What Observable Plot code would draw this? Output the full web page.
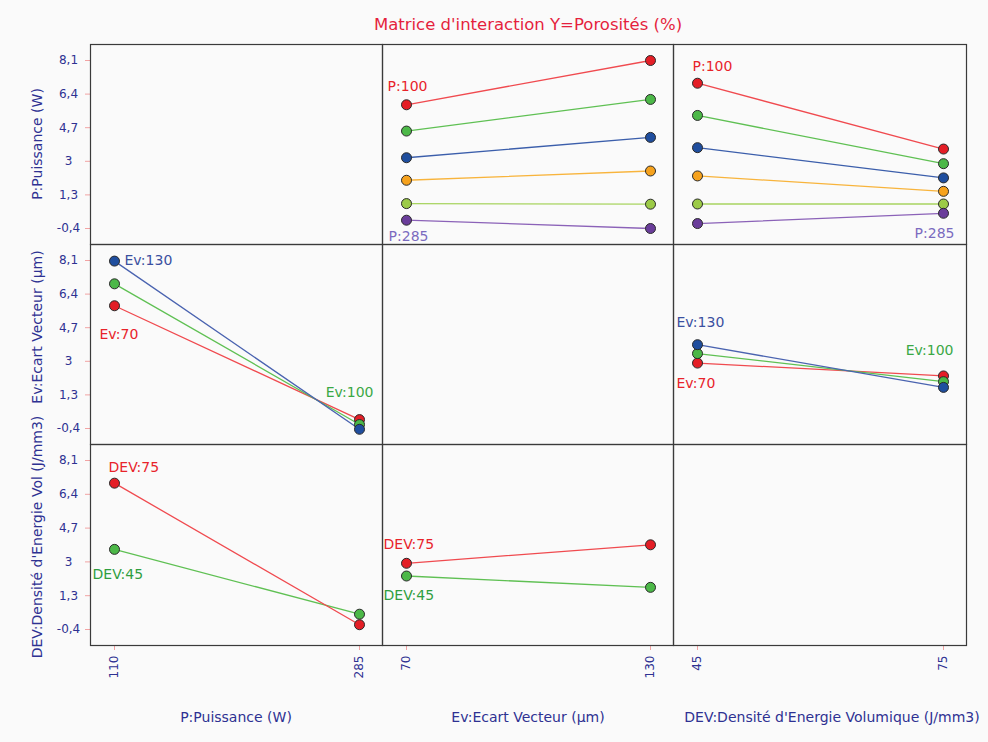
<!DOCTYPE html>
<html>
<head>
<meta charset="utf-8">
<script src="https://cdn.jsdelivr.net/npm/d3@7"></script>
<script src="https://cdn.jsdelivr.net/npm/@observablehq/plot@0.6"></script>
<style>
  html, body { margin: 0; padding: 0; background: #fafafa; }
  #fig { position: relative; width: 988px; height: 742px; background: #fafafa; overflow: hidden;
         font-family: "DejaVu Sans", Verdana, sans-serif; }
  .cell { position: absolute; }
  .lab { position: absolute; white-space: nowrap; color: #2e3192; font-size: 14px; line-height: 1; }
  .title { position: absolute; white-space: nowrap; color: #e51f3d; font-size: 16.5px; line-height: 1;
           left: 528px; top: 25px; transform: translate(-50%, -50%); }
</style>
</head>
<body>
<div id="fig"></div>
<script>
// ---------------- data ----------------
const title = "Matrice d'interaction Y=Porosités (%)";
const colTitles = ["P:Puissance (W)", "Ev:Ecart Vecteur (µm)", "DEV:Densité d'Energie Volumique (J/mm3)"];
const rowTitles = ["P:Puissance (W)", "Ev:Ecart Vecteur (µm)", "DEV:Densité d'Energie Vol (J/mm3)"];

const P_levels = [110, 285];
const Ev_levels = [70, 130];
const DEV_levels = [45, 75];
const yTicks = [-0.4, 1.3, 3, 4.7, 6.4, 8.1];

// Row P : one line per power level (P:100 ... P:285)
const P_series = ["P:100", "P2", "P3", "P4", "P5", "P:285"];
const P_vs_Ev = [[5.86, 8.10], [4.53, 6.13], [3.18, 4.21], [2.04, 2.51], [0.86, 0.83], [0.02, -0.40]];
const P_vs_DEV = [[6.95, 3.62], [5.32, 2.88], [3.69, 2.16], [2.26, 1.48], [0.84, 0.84], [-0.15, 0.37]];

// Row Ev
const Ev_series = ["Ev:70", "Ev:100", "Ev:130"];
const Ev_vs_P = [[5.81, 0.05], [6.92, -0.20], [8.07, -0.44]];
const Ev_vs_DEV = [[2.91, 2.26], [3.39, 1.97], [3.84, 1.68]];

// Row DEV
const DEV_series = ["DEV:45", "DEV:75"];
const DEV_vs_P = [[3.63, 0.37], [6.96, -0.16]];
const DEV_vs_Ev = [[2.29, 1.72], [2.93, 3.86]];

// ---------------- styles / layout ----------------
const RED = "#e41e26", GREEN = "#4cb848", BLUE = "#1f4e9e", ORANGE = "#f6a21d", LGREEN = "#9ccb47", PURPLE = "#6a3d9a";
const pointColors = { P: [RED, GREEN, BLUE, ORANGE, LGREEN, PURPLE], Ev: [RED, GREEN, BLUE], DEV: [GREEN, RED] };
const lineColors = {
  P: ["#f04a4f", "#5fc053", "#3b5eab", "#f8b43c", "#a8d460", "#8b62b8"],
  Ev: ["#f04a4f", "#5fc053", "#4a63b0"],
  DEV: ["#5fc053", "#f04a4f"]
};
const LAB_RED = "#e8232a", LAB_LAV = "#7b6bbf", LAB_BLUE = "#3a50a0", LAB_GREEN = "#3aa845", LAB_GREEN2 = "#2f9e3f";

const colEdges = [90, 382, 673, 966];
const rowEdges = [44, 244, 444, 645];
const xLevels = [P_levels, Ev_levels, DEV_levels];
const AXIS_BLUE = "#2e3192", TICK_PINK = "#f2a3a3";

const cells = [
  { r: 0, c: 1, fac: "P", series: P_series, values: P_vs_Ev },
  { r: 0, c: 2, fac: "P", series: P_series, values: P_vs_DEV },
  { r: 1, c: 0, fac: "Ev", series: Ev_series, values: Ev_vs_P },
  { r: 1, c: 2, fac: "Ev", series: Ev_series, values: Ev_vs_DEV },
  { r: 2, c: 0, fac: "DEV", series: DEV_series, values: DEV_vs_P },
  { r: 2, c: 1, fac: "DEV", series: DEV_series, values: DEV_vs_Ev }
];

const labelLayout = [
  { r: 0, c: 1, series: "P:100", li: 0, anchor: "middle", dx: 1, dy: -18, color: LAB_RED },
  { r: 0, c: 1, series: "P:285", li: 0, anchor: "middle", dx: 2, dy: 16, color: LAB_LAV },
  { r: 0, c: 2, series: "P:100", li: 0, anchor: "start", dx: -5, dy: -17, color: LAB_RED },
  { r: 0, c: 2, series: "P:285", li: 1, anchor: "end", dx: 11, dy: 20, color: LAB_LAV },
  { r: 1, c: 0, series: "Ev:130", li: 0, anchor: "start", dx: 10, dy: -1, color: LAB_BLUE },
  { r: 1, c: 0, series: "Ev:70", li: 0, anchor: "start", dx: -15, dy: 29, color: LAB_RED },
  { r: 1, c: 0, series: "Ev:100", li: 1, anchor: "end", dx: 14, dy: -32, color: LAB_GREEN },
  { r: 1, c: 2, series: "Ev:130", li: 0, anchor: "start", dx: -21, dy: -22, color: LAB_BLUE },
  { r: 1, c: 2, series: "Ev:70", li: 0, anchor: "start", dx: -21, dy: 20, color: LAB_RED },
  { r: 1, c: 2, series: "Ev:100", li: 1, anchor: "end", dx: 10, dy: -31, color: LAB_GREEN },
  { r: 2, c: 0, series: "DEV:75", li: 0, anchor: "start", dx: -6, dy: -16, color: LAB_RED },
  { r: 2, c: 0, series: "DEV:45", li: 0, anchor: "start", dx: -22, dy: 25, color: LAB_GREEN2 },
  { r: 2, c: 1, series: "DEV:75", li: 0, anchor: "start", dx: -23, dy: -19, color: LAB_RED },
  { r: 2, c: 1, series: "DEV:45", li: 0, anchor: "start", dx: -23, dy: 19, color: LAB_GREEN2 }
];

const fmt = d => String(d).replace(".", ",");
const FONT = "DejaVu Sans, Verdana, sans-serif";

function tableFor(spec, levels) {
  const out = [];
  spec.values.forEach((pair, si) =>
    pair.forEach((v, li) => out.push({ series: spec.series[si], si, li, x: levels[li], y: v })));
  return out;
}

const fig = document.getElementById("fig");

function makeCell(r, c) {
  const ml = c === 0 ? 90 : 0;
  const mb = r === 2 ? 60 : 0;
  const cw = colEdges[c + 1] - colEdges[c];
  const ch = rowEdges[r + 1] - rowEdges[r];
  const levels = xLevels[c];
  const marks = [];
  if (c === 0) marks.push(Plot.axisY(yTicks, {
    tickSize: 5, tickPadding: 17, textAnchor: "middle", stroke: TICK_PINK, fill: AXIS_BLUE,
    fontSize: 12, tickFormat: fmt, label: null
  }));
  if (r === 2) marks.push(Plot.axisX(levels, {
    tickSize: 5, tickPadding: 5, tickRotate: -90, stroke: TICK_PINK, fill: AXIS_BLUE,
    fontSize: 12, label: null
  }));
  const spec = cells.find(d => d.r === r && d.c === c);
  if (spec) {
    const rows = tableFor(spec, levels);
    marks.push(Plot.line(rows, {
      x: "x", y: "y", z: "series", stroke: d => lineColors[spec.fac][d.si], strokeWidth: 1.3
    }));
    marks.push(Plot.dot(rows, {
      x: "x", y: "y", r: 5, fill: d => pointColors[spec.fac][d.si], stroke: "#2a2a2a", strokeWidth: 1
    }));
    labelLayout.filter(l => l.r === r && l.c === c).forEach(l => {
      const row = rows.filter(d => d.series === l.series && d.li === l.li);
      marks.push(Plot.text(row, {
        x: "x", y: "y", text: "series", textAnchor: l.anchor, lineAnchor: "middle",
        dx: l.dx, dy: l.dy, fill: l.color, fontSize: 14, fontFamily: FONT
      }));
    });
  }
  marks.push(Plot.frame({ stroke: "#3a3a3a", strokeWidth: 1.2 }));

  const svg = Plot.plot({
    width: cw + ml,
    height: ch + mb,
    marginLeft: ml, marginRight: 0, marginTop: 0, marginBottom: mb,
    style: { background: "transparent", overflow: "visible", fontFamily: FONT, fontSize: "12px" },
    x: { domain: levels, insetLeft: 24, insetRight: 23, axis: null },
    y: { domain: [-0.4, 8.1], insetTop: 16, insetBottom: 16, axis: null },
    color: { type: "identity" },
    marks
  });
  const wrap = document.createElement("div");
  wrap.className = "cell";
  wrap.style.left = (colEdges[c] - ml) + "px";
  wrap.style.top = rowEdges[r] + "px";
  wrap.appendChild(svg);
  fig.appendChild(wrap);
}

for (let r = 0; r < 3; r++) for (let c = 0; c < 3; c++) makeCell(r, c);

// title
const t = document.createElement("div");
t.className = "title";
t.textContent = title;
fig.appendChild(t);

// row titles (rotated)
const rowCenters = [144, 327, 537];
rowTitles.forEach((txt, i) => {
  const d = document.createElement("div");
  d.className = "lab";
  d.textContent = txt;
  d.style.left = "37px";
  d.style.top = rowCenters[i] + "px";
  d.style.transform = "translate(-50%, -50%) rotate(-90deg)";
  fig.appendChild(d);
});

// column titles
const colCenters = [236, 528, 832];
colTitles.forEach((txt, i) => {
  const d = document.createElement("div");
  d.className = "lab";
  d.textContent = txt;
  d.style.left = colCenters[i] + "px";
  d.style.top = "717px";
  d.style.transform = "translate(-50%, -50%)";
  fig.appendChild(d);
});
</script>
</body>
</html>
